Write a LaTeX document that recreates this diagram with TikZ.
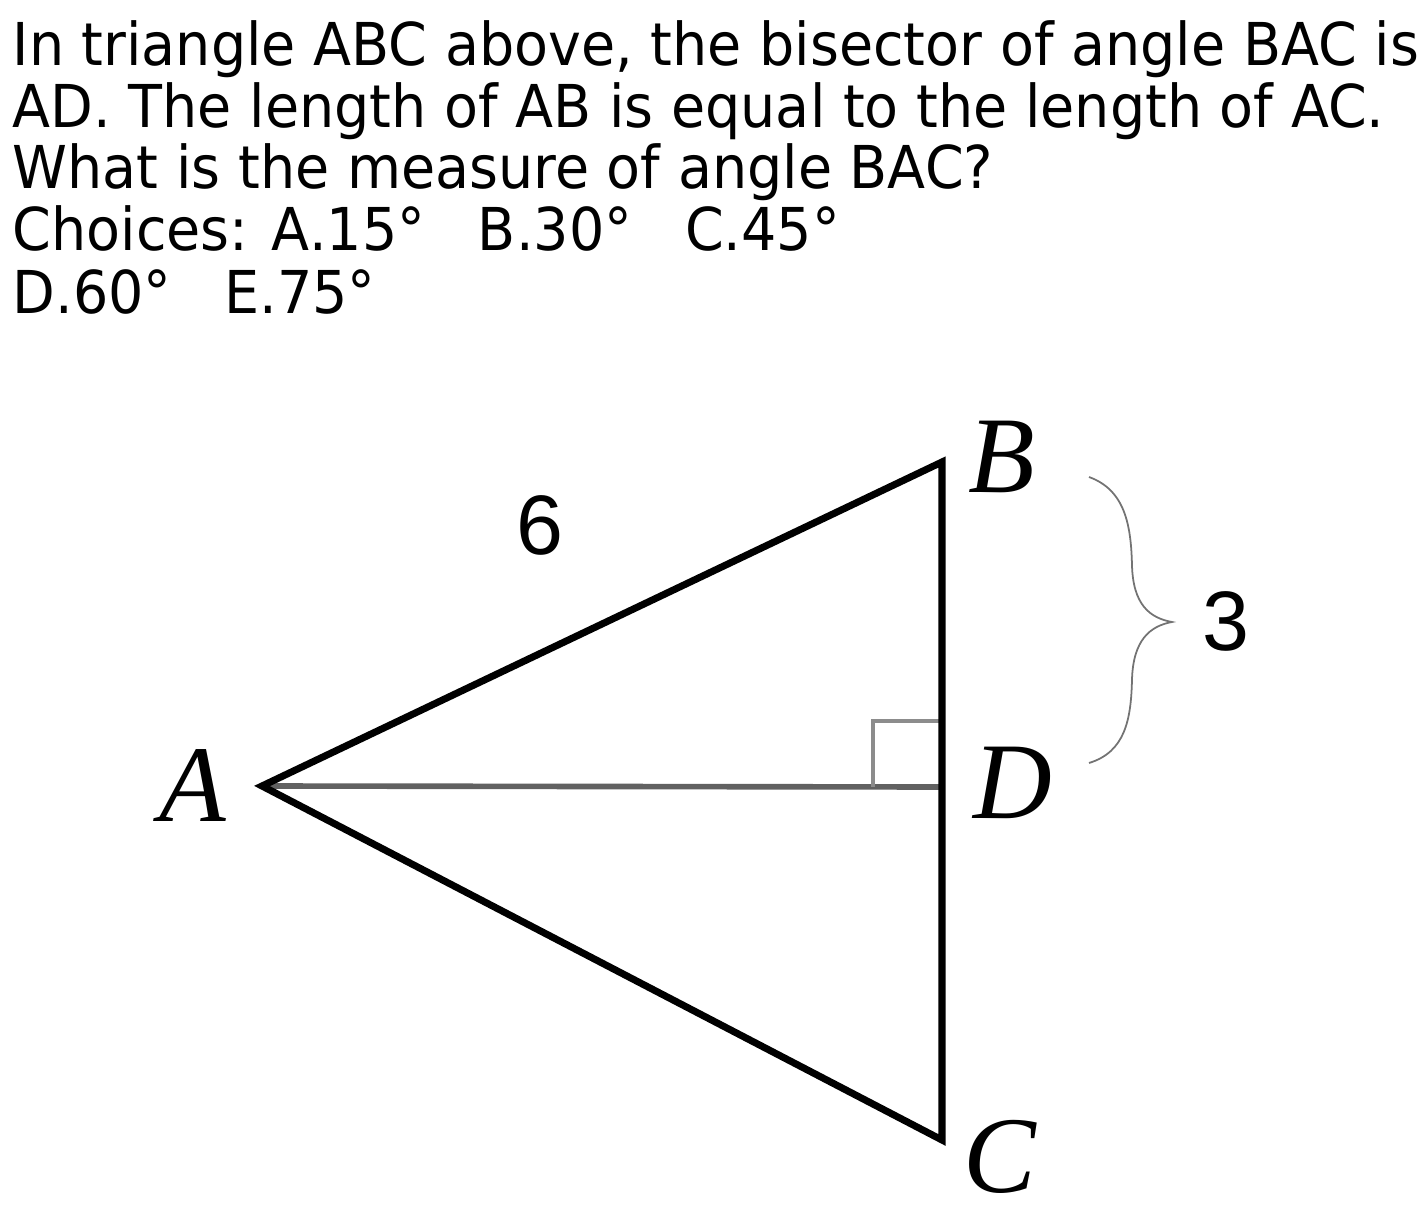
\documentclass[tikz,border=0pt]{standalone}
\usepackage{fontspec}
\setmainfont{DejaVu Sans}[FakeStretch=0.94]
\newfontfamily\labelfont{Liberation Serif}
\newfontfamily\numfont{Liberation Sans}
\usetikzlibrary{positioning, calc}

\begin{document}
\begin{tikzpicture}[x=0.01cm, y=-0.01cm,
    side/.style={line width=2pt, line join=miter},
    vlabel/.style={font=\labelfont\itshape\fontsize{31}{31}\selectfont, inner sep=0pt},
    qline/.style={anchor=base west, inner sep=0pt, font=\fontsize{16.8}{17.6}\selectfont}]
    \useasboundingbox (0,0) rectangle (1426,1218);

    % Question text
    \node[qline] (q1) at (12,65) {In triangle ABC above, the bisector of angle BAC is};
    \node[qline] (q2) at (12,127) {AD. The length of AB is equal to the length of AC.};
    \node[qline] (q3) at (12,189) {What is the measure of angle BAC?};
    \node[qline] (q4) at (12,251) {Choices: A.15°~~~B.30°~~~C.45°};
    \node[qline] (q5) at (12,313) {D.60°~~~E.75°};

    % Vertices
    \coordinate (A) at (262,786);
    \coordinate (B) at (942,462);
    \coordinate (C) at (942,1140);
    \coordinate (D) at (942,787);

    % Bisector and right angle mark
    \draw[black!62, line width=1.6pt] (A) -- (D);
    \draw[black!45, line width=1.1pt] ($(D)+(-69,0)$) -- ($(D)+(-69,-66)$) -- ($(D)+(0,-66)$);

    % Triangle
    \draw[side] (A) -- (B) -- (C) -- cycle;

    % Vertex labels
    \node[vlabel] (lA) at (193,786) {A};
    \node[vlabel] (lB) at (1002,457) {B};
    \node[vlabel] (lD) at (1013,783) {D};
    \node[vlabel] (lC) at (1000,1157) {C};

    % Side lengths
    \node[font=\numfont\fontsize{24}{24}\selectfont, inner sep=0pt] (six) at (540,525) {6};
    \node[font=\numfont\fontsize{24}{24}\selectfont, inner sep=0pt] (three) at (1226,621) {3};

    % Brace for BD
    \coordinate (bt) at (1089,477);
    \coordinate (bm) at (1172,622);
    \coordinate (bb) at (1089,763);
    \draw[black!55, line width=0.5pt] (bt) .. controls (1125,490) and (1131,525) .. (1132,565)
        .. controls (1133,605) and (1150,618) .. (bm)
        .. controls (1150,626) and (1133,640) .. (1132,680)
        .. controls (1131,720) and (1125,752) .. (bb);
\end{tikzpicture}
\end{document}
